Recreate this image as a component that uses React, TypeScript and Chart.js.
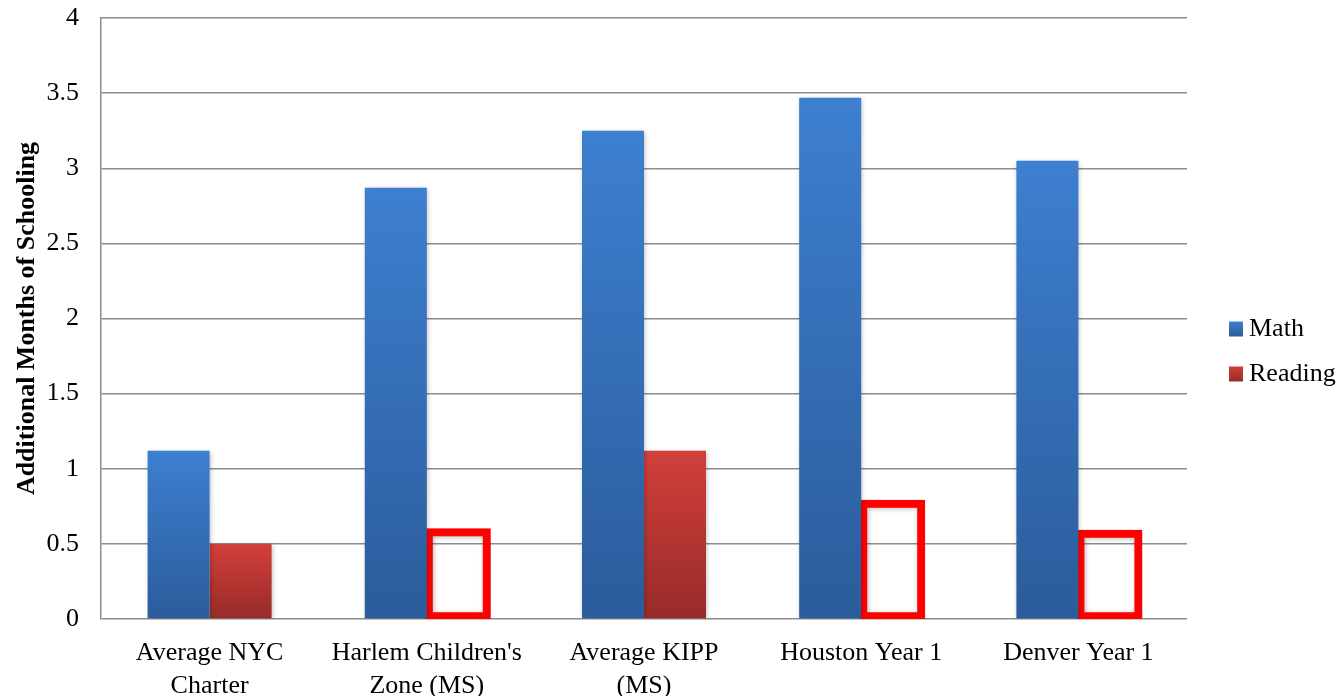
import React, { useEffect, useRef } from "react";
import { Chart, registerables } from "chart.js";

Chart.register(...registerables);

const categories: (string | string[])[] = [
  ["Average NYC", "Charter"],
  ["Harlem Children's", "Zone (MS)"],
  ["Average KIPP", "(MS)"],
  "Houston Year 1",
  "Denver Year 1",
];
const mathValues = [1.12, 2.87, 3.25, 3.47, 3.05];
const readingValues = [0.5, 0.59, 1.12, 0.78, 0.58];
const readingOutlined = [false, true, false, true, true];
const seriesLabels = ["Math", "Reading"];
const yTicksMax = 4;
const yStep = 0.5;

const FONT = '"Liberation Serif", "Times New Roman", serif';
const BLUE_TOP = "#3d7fd0";
const BLUE_BOTTOM = "#2b5c9b";
const RED_TOP = "#d23f3b";
const RED_BOTTOM = "#972b29";

function barGradient(ctx: any, top: string, bottom: string) {
  const chart = ctx.chart;
  const y = chart.scales?.y;
  if (!y || ctx.parsed == null) return top;
  const yTop = y.getPixelForValue(ctx.parsed.y);
  const yBot = y.getPixelForValue(0);
  if (!isFinite(yTop) || !isFinite(yBot) || yTop === yBot) return top;
  const g = chart.ctx.createLinearGradient(0, yTop, 0, yBot);
  g.addColorStop(0, top);
  g.addColorStop(1, bottom);
  return g;
}

const shadowPlugin = {
  id: "barShadow",
  beforeDatasetsDraw(chart: any) {
    const c = chart.ctx;
    c.save();
    c.shadowColor = "rgba(0,0,0,0.28)";
    c.shadowBlur = 5;
    c.shadowOffsetX = 1;
    c.shadowOffsetY = 1;
  },
  afterDatasetsDraw(chart: any) {
    chart.ctx.restore();
  },
};

const legendPlugin = {
  id: "sideLegend",
  afterDraw(chart: any) {
    const c = chart.ctx;
    const area = chart.chartArea;
    const colors = [
      [BLUE_TOP, BLUE_BOTTOM],
      [RED_TOP, RED_BOTTOM],
    ];
    const x0 = area.right + 42;
    const yCenter = (area.top + area.bottom) / 2;
    const gap = 45;
    c.save();
    c.font = `26px ${FONT}`;
    c.textBaseline = "middle";
    c.textAlign = "left";
    chart.data.datasets.forEach((ds: any, i: number) => {
      const cy = yCenter + 10 + i * gap;
      const g = c.createLinearGradient(0, cy - 7, 0, cy + 8);
      g.addColorStop(0, colors[i][0]);
      g.addColorStop(1, colors[i][1]);
      c.fillStyle = g;
      c.fillRect(x0, cy - 7, 14, 15);
      c.fillStyle = "#000";
      c.fillText(ds.label, x0 + 20, cy + 1);
    });
    c.restore();
  },
};

export default function App() {
  const ref = useRef<HTMLCanvasElement>(null);
  useEffect(() => {
    if (!ref.current) return;
    const chart = new Chart(ref.current, {
      type: "bar",
      data: {
        labels: categories,
        datasets: [
          {
            label: seriesLabels[0],
            data: mathValues,
            backgroundColor: (ctx: any) => barGradient(ctx, BLUE_TOP, BLUE_BOTTOM),
            borderWidth: 0,
          },
          {
            label: seriesLabels[1],
            data: readingValues,
            backgroundColor: (ctx: any) =>
              readingOutlined[ctx.dataIndex] ? "rgba(0,0,0,0)" : barGradient(ctx, RED_TOP, RED_BOTTOM),
            borderColor: "#ff0000",
            borderWidth: (ctx: any) => (readingOutlined[ctx.dataIndex] ? 4 : 0),
            borderSkipped: false,
            inflateAmount: (ctx: any) => (readingOutlined[ctx.dataIndex] ? 2 : 0),
          } as any,
        ],
      },
      options: {
        animation: false,
        responsive: false,
        maintainAspectRatio: false,
        layout: { padding: { top: 18, right: 152, bottom: 0, left: 0 } },
        datasets: { bar: { categoryPercentage: 0.571, barPercentage: 1 } },
        plugins: { legend: { display: false }, tooltip: { enabled: false } },
        font: { family: FONT, size: 26 },
        scales: {
          x: {
            grid: { display: false, drawTicks: false },
            border: { display: false },
            ticks: {
              color: "#000",
              padding: 18,
              maxRotation: 0,
              autoSkip: false,
              font: { family: FONT, size: 26, lineHeight: 1.27 },
            },
            afterFit: (s: any) => {
              s.height = 77;
              s.paddingLeft = 0;
              s.paddingRight = 0;
            },
          },
          y: {
            min: 0,
            max: yTicksMax,
            grid: { color: "#8c8c8c", lineWidth: 1.5, drawTicks: false },
            border: { display: true, color: "#8c8c8c", width: 1.5 },
            ticks: {
              stepSize: yStep,
              color: "#000",
              padding: 22,
              font: { family: FONT, size: 26 },
              callback: (v: any) => String(Number(v)),
            },
            title: {
              display: true,
              text: "Additional Months of Schooling",
              color: "#000",
              font: { family: FONT, size: 26, weight: "bold" },
              padding: { top: 12, bottom: 0 },
            },
            afterFit: (s: any) => {
              s.width = 101;
              s.paddingTop = 0;
              s.paddingBottom = 0;
            },
          },
        },
      } as any,
      plugins: [shadowPlugin, legendPlugin],
    });
    return () => chart.destroy();
  }, []);
  return (
    <div style={{ position: "absolute", left: 0, top: 0, width: 1339, height: 696, background: "#fff" }}>
      <canvas ref={ref} width={1339} height={696} style={{ display: "block" }} />
    </div>
  );
}
